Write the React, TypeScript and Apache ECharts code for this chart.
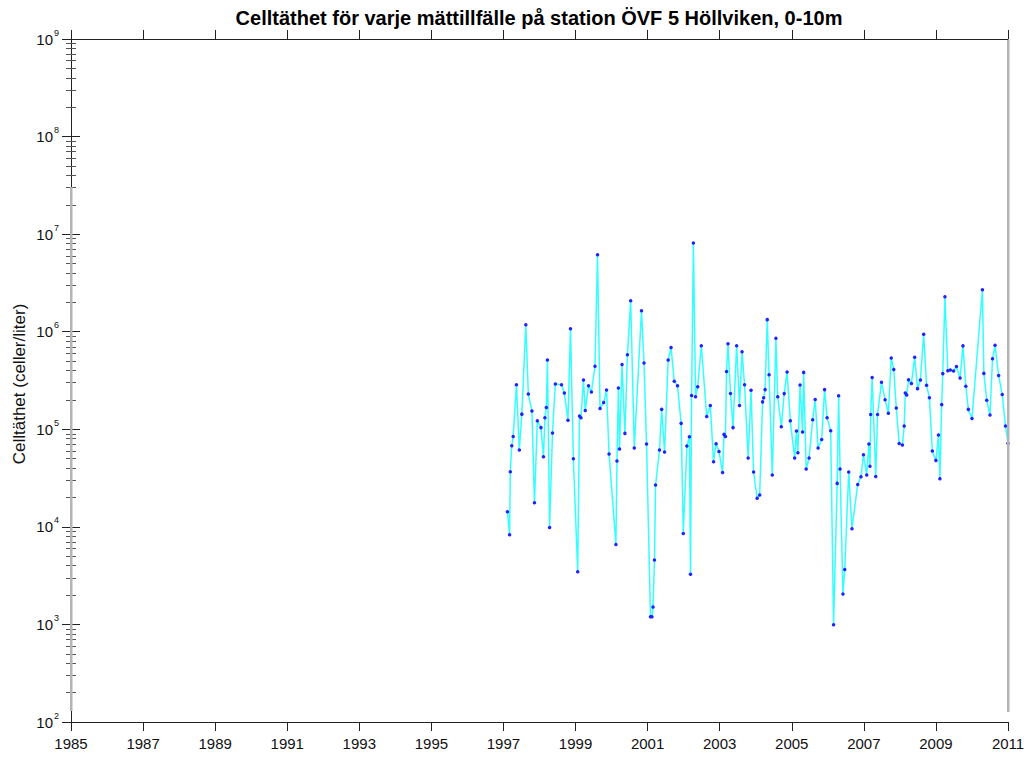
import React, { useEffect, useRef } from 'react';
import * as echarts from 'echarts';

const TITLE = 'Celltäthet för varje mättillfälle på station ÖVF 5 Höllviken, 0-10m';
const Y_NAME = 'Celltäthet (celler/liter)';
const X_START = 1985;
const X_END = 2011;
const X_STEP = 2;
const Y_MIN = 1e2;
const Y_MAX = 1e9;

const sampleYears = [
  1997.11, 1997.17, 1997.19, 1997.23, 1997.27, 1997.36, 1997.44, 1997.51, 1997.62, 1997.69,
  1997.79, 1997.86, 1997.94, 1998.04, 1998.11, 1998.15, 1998.19, 1998.22, 1998.28, 1998.36,
  1998.44, 1998.61, 1998.69, 1998.79, 1998.86, 1998.94, 1999.06, 1999.11, 1999.15, 1999.22,
  1999.27, 1999.36, 1999.44, 1999.54, 1999.61, 1999.68, 1999.78, 1999.86, 1999.93, 2000.12,
  2000.15, 2000.19, 2000.22, 2000.29, 2000.37, 2000.44, 2000.53, 2000.63, 2000.83, 2000.90,
  2000.97, 2001.08, 2001.12, 2001.15, 2001.19, 2001.22, 2001.33, 2001.39, 2001.47, 2001.57,
  2001.65, 2001.74, 2001.83, 2001.93, 2001.99, 2002.09, 2002.16, 2002.19, 2002.22, 2002.27,
  2002.33, 2002.39, 2002.49, 2002.64, 2002.74, 2002.83, 2002.90, 2002.98, 2003.08, 2003.12,
  2003.16, 2003.19, 2003.23, 2003.30, 2003.37, 2003.47, 2003.55, 2003.62, 2003.69, 2003.79,
  2003.87, 2003.94, 2004.04, 2004.11, 2004.19, 2004.22, 2004.26, 2004.32, 2004.37, 2004.46,
  2004.56, 2004.61, 2004.71, 2004.79, 2004.87, 2004.96, 2005.08, 2005.13, 2005.17, 2005.23,
  2005.30, 2005.33, 2005.40, 2005.48, 2005.58, 2005.65, 2005.73, 2005.83, 2005.91, 2005.98,
  2006.08, 2006.16, 2006.26, 2006.30, 2006.34, 2006.42, 2006.47, 2006.58, 2006.67, 2006.83,
  2006.92, 2006.99, 2007.08, 2007.14, 2007.17, 2007.19, 2007.23, 2007.33, 2007.38, 2007.49,
  2007.59, 2007.68, 2007.76, 2007.83, 2007.90, 2007.98, 2008.07, 2008.12, 2008.15, 2008.19,
  2008.24, 2008.32, 2008.41, 2008.49, 2008.57, 2008.66, 2008.74, 2008.82, 2008.90, 2009.00,
  2009.07, 2009.11, 2009.16, 2009.19, 2009.25, 2009.33, 2009.40, 2009.49, 2009.57, 2009.67,
  2009.75, 2009.83, 2009.90, 2010.00, 2010.29, 2010.33, 2010.41, 2010.50, 2010.57, 2010.64,
  2010.74, 2010.84, 2010.93, 2011.0,
];

const cellCounts = [
  14300, 8300, 36700, 67900, 84500, 286000, 61400, 143000, 1180000, 230000,
  154000, 17700, 122000, 104000, 52400, 131000, 167000, 513000, 9860, 91600,
  291000, 286000, 235000, 124000, 1070000, 50000, 3470, 137000, 131000, 320000,
  156000, 280000, 241000, 442000, 6150000, 163000, 188000, 253000, 55800, 6610,
  47300, 265000, 62800, 462000, 90800, 581000, 2080000, 64300, 1640000, 478000,
  70600, 1200, 1200, 1510, 4570, 26800, 61400, 160000, 58500, 513000,
  690000, 310000, 280000, 115000, 8570, 67400, 84000, 3260, 222000, 8100000,
  216000, 273000, 719000, 135000, 175000, 46500, 71100, 59300, 36100, 88700,
  84500, 392000, 754000, 233000, 104000, 719000, 175000, 624000, 286000, 50800,
  251000, 36500, 19600, 21200, 191000, 211000, 255000, 1330000, 363000, 34000,
  855000, 216000, 106000, 232000, 386000, 122000, 50800, 96000, 57500, 284000,
  93800, 383000, 39200, 50800, 125000, 202000, 64300, 78700, 255000, 131000,
  96800, 990, 27900, 221000, 39200, 2050, 3660, 36500, 9570, 27200,
  32700, 54900, 34000, 70600, 41700, 142000, 340000, 32900, 142000, 303000,
  201000, 146000, 538000, 411000, 165000, 71600, 69000, 108000, 235000, 225000,
  322000, 295000, 546000, 261000, 320000, 940000, 282000, 211000, 60000, 48000,
  87300, 31200, 179000, 372000, 2280000, 398000, 405000, 395000, 440000, 336000,
  716000, 276000, 160000, 129000, 2690000, 374000, 198000, 140000, 529000, 725000,
  356000, 227000, 108000, 71900,
];

const FONT = 'Liberation Sans, Arial, Helvetica, sans-serif';
const AXIS_COLOR = '#222';

export default function App() {
  const ref = useRef<HTMLDivElement>(null);

  useEffect(() => {
    if (!ref.current) return;
    const chart = echarts.init(ref.current, null, { renderer: 'svg' });
    const data = sampleYears.map((y, i) => [y - X_START, cellCounts[i]]);
    const span = X_END - X_START;

    const xBase = {
      type: 'value',
      min: 0,
      max: span,
      interval: X_STEP,
      splitLine: { show: false },
      axisLine: { show: true, onZero: false, lineStyle: { color: AXIS_COLOR, width: 1 } },
      axisTick: { show: true, length: 9, inside: false, lineStyle: { color: AXIS_COLOR, width: 1 } },
    };

    const yBase = {
      type: 'log',
      logBase: 10,
      min: Y_MIN,
      max: Y_MAX,
      splitLine: { show: false },
      minorSplitLine: { show: false },
      axisLine: { show: true, lineStyle: { color: AXIS_COLOR, width: 1 } },
      axisTick: { show: true, length: 9, inside: false, lineStyle: { color: AXIS_COLOR, width: 1 } },
      minorTick: { show: true, splitNumber: 9, length: 5, lineStyle: { color: '#555', width: 1 } },
    };

    chart.setOption({
      animation: false,
      backgroundColor: '#ffffff',
      grid: { left: 71, right: 21, top: 39, bottom: 36, containLabel: false },
      xAxis: [
        {
          ...xBase,
          position: 'bottom',
          axisLabel: {
            show: true,
            margin: 14,
            fontSize: 15,
            color: '#111',
            fontFamily: FONT,
            formatter: (v: number) => String(X_START + v),
          },
        },
        { ...xBase, position: 'top', axisLabel: { show: false } },
      ],
      yAxis: [
        {
          ...yBase,
          position: 'left',
          axisLabel: {
            show: true,
            margin: 12,
            align: 'right',
            fontFamily: FONT,
            color: '#111',
            formatter: (v: number) => `{b|10}{s|${Math.round(Math.log10(v))}}`,
            rich: {
              b: { fontSize: 15, lineHeight: 22, color: '#111', fontFamily: FONT },
              s: { fontSize: 9, lineHeight: 10, verticalAlign: 'top', color: '#111', fontFamily: FONT, padding: [0, 0, 0, 1] },
            },
          },
        },
        { ...yBase, position: 'right', axisLabel: { show: false } },
      ],
      graphic: [
        {
          type: 'text',
          x: 539,
          y: 18,
          style: {
            text: TITLE,
            align: 'center',
            verticalAlign: 'middle',
            font: `bold 20px ${FONT}`,
            fill: '#000',
          },
        },
        {
          type: 'text',
          x: 19,
          y: 384,
          rotation: Math.PI / 2,
          style: {
            text: Y_NAME,
            align: 'center',
            verticalAlign: 'middle',
            font: `17px ${FONT}`,
            fill: '#111',
          },
        },
        {
          type: 'rect',
          z: 50,
          shape: { x: 70, y: 187, width: 2.5, height: 524 },
          style: { fill: '#b4b4b4' },
        },
        {
          type: 'rect',
          z: 50,
          shape: { x: 1007, y: 40, width: 2.5, height: 672 },
          style: { fill: '#b4b4b4' },
        },
      ],
      series: [
        {
          type: 'line',
          xAxisIndex: 0,
          yAxisIndex: 0,
          data,
          symbol: 'circle',
          symbolSize: 3.5,
          showSymbol: true,
          clip: false,
          lineStyle: { color: '#33ffff', width: 1.5 },
          itemStyle: { color: '#2222ff', borderWidth: 0 },
          emphasis: { disabled: true },
        },
      ],
    });

    return () => chart.dispose();
  }, []);

  return (
    <div
      ref={ref}
      style={{ position: 'fixed', left: 0, top: 0, width: 1029, height: 758, background: '#fff' }}
    />
  );
}
